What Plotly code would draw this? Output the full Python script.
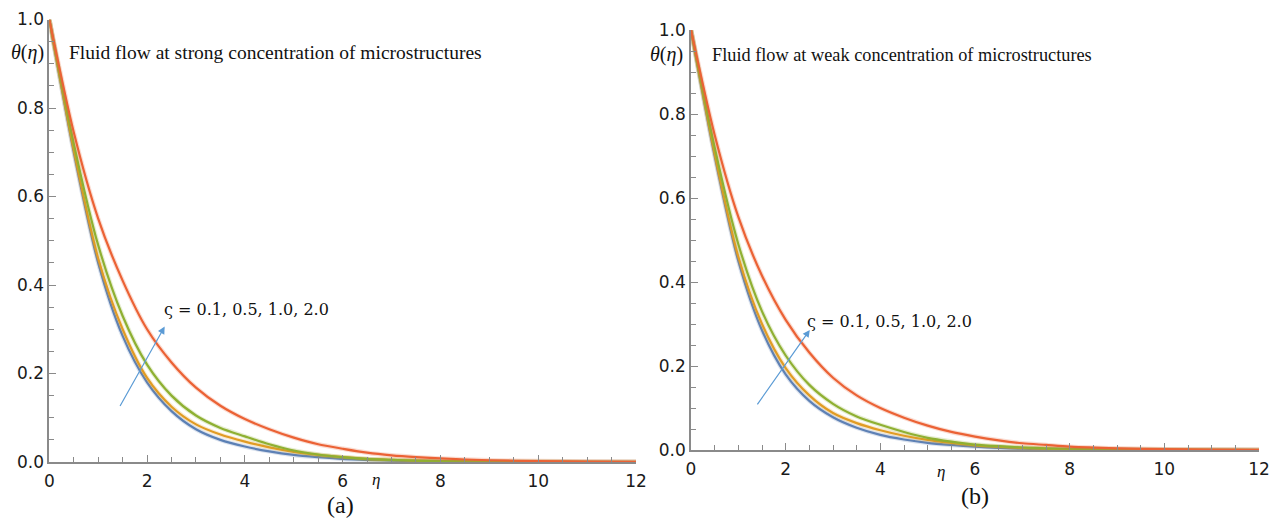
import plotly.graph_objects as go

# ---------------- data ----------------
ETA = [0, 0.5, 1, 1.5, 2, 2.5, 3, 3.5, 4, 4.5, 5, 5.5, 6, 6.5, 7, 7.5, 8, 9, 10, 11, 12]
SIGMA_LABELS = ["0.1", "0.5", "1.0", "2.0"]

# (a) strong concentration of microstructures
A_01 = [1.0, 0.70, 0.45, 0.285, 0.18, 0.115, 0.074, 0.050, 0.035, 0.024, 0.016, 0.011, 0.007, 0.005, 0.003, 0.002, 0.001, 0.0005, 0.0, 0.0, 0.0]
A_05 = [1.0, 0.705, 0.46, 0.30, 0.19, 0.125, 0.085, 0.062, 0.046, 0.033, 0.023, 0.016, 0.011, 0.007, 0.005, 0.003, 0.002, 0.001, 0.0005, 0.0, 0.0]
A_10 = [1.0, 0.72, 0.49, 0.33, 0.22, 0.15, 0.105, 0.077, 0.058, 0.040, 0.026, 0.017, 0.011, 0.007, 0.005, 0.003, 0.002, 0.001, 0.0005, 0.0002, 0.0]
A_20 = [1.0, 0.745, 0.55, 0.41, 0.30, 0.225, 0.168, 0.127, 0.097, 0.074, 0.055, 0.040, 0.030, 0.021, 0.015, 0.011, 0.008, 0.004, 0.002, 0.001, 0.0005]

# (b) weak concentration of microstructures
B_01 = [1.0, 0.70, 0.45, 0.285, 0.18, 0.117, 0.078, 0.053, 0.036, 0.025, 0.017, 0.012, 0.008, 0.005, 0.003, 0.002, 0.001, 0.0005, 0.0, 0.0, 0.0]
B_05 = [1.0, 0.705, 0.46, 0.30, 0.195, 0.13, 0.088, 0.064, 0.047, 0.034, 0.024, 0.017, 0.011, 0.008, 0.005, 0.003, 0.002, 0.001, 0.0005, 0.0, 0.0]
B_10 = [1.0, 0.72, 0.49, 0.33, 0.225, 0.155, 0.11, 0.08, 0.06, 0.043, 0.029, 0.020, 0.013, 0.009, 0.006, 0.004, 0.003, 0.0015, 0.0007, 0.0003, 0.0]
B_20 = [1.0, 0.75, 0.555, 0.415, 0.31, 0.232, 0.172, 0.13, 0.10, 0.077, 0.058, 0.043, 0.032, 0.023, 0.016, 0.012, 0.008, 0.004, 0.002, 0.001, 0.0005]

X_TICKS = [0, 2, 4, 6, 8, 10, 12]
Y_TICKS = [0.0, 0.2, 0.4, 0.6, 0.8, 1.0]

COLORS = ["#5E81B5", "#E19C24", "#8FB032", "#EB6235"]

W, H = 1279, 523
fig = go.Figure()

panels = [
    ("x", "y", [A_01, A_05, A_10, A_20]),
    ("x2", "y2", [B_01, B_05, B_10, B_20]),
]
for xa, ya, series in panels:
    for vals, col, lab in zip(series, COLORS, SIGMA_LABELS):
        fig.add_trace(go.Scatter(x=ETA, y=vals, mode="lines", xaxis=xa, yaxis=ya,
                                 line=dict(color=col, width=4.5, shape="spline", smoothing=0.8),
                                 opacity=0.22, showlegend=False, hoverinfo="skip"))
        fig.add_trace(go.Scatter(x=ETA, y=vals, mode="lines", xaxis=xa, yaxis=ya,
                                 name="ς = " + lab,
                                 line=dict(color=col, width=2.2, shape="spline", smoothing=0.8),
                                 showlegend=False))

AX_COL = "#8a8a8a"
TICK_FONT = dict(family="DejaVu Sans, sans-serif", size=17, color="#1a1a1a")

def xaxis_cfg(domain, anchor):
    return dict(domain=domain, anchor=anchor, range=[0, 12], tickvals=X_TICKS,
                ticktext=[str(v) for v in X_TICKS], automargin=False,
                showline=True, linecolor=AX_COL, linewidth=1.6, showgrid=False, zeroline=False,
                ticks="inside", ticklen=7, tickwidth=1.4, tickcolor=AX_COL,
                minor=dict(dtick=0.5, ticks="inside", ticklen=5, tickwidth=1.2, tickcolor=AX_COL, showgrid=False),
                tickfont=TICK_FONT, ticklabelstandoff=3)

def yaxis_cfg(domain, anchor):
    return dict(domain=domain, anchor=anchor, range=[0, 1], tickvals=Y_TICKS,
                ticktext=["%.1f" % v for v in Y_TICKS], automargin=False,
                showline=True, linecolor=AX_COL, linewidth=1.6, showgrid=False, zeroline=False,
                ticks="inside", ticklen=7, tickwidth=1.4, tickcolor=AX_COL,
                minor=dict(dtick=0.05, ticks="inside", ticklen=5, tickwidth=1.2, tickcolor=AX_COL, showgrid=False),
                tickfont=TICK_FONT, ticklabelstandoff=0)

fig.update_layout(
    width=W, height=H, autosize=False,
    margin=dict(l=0, r=0, t=0, b=0, pad=0),
    paper_bgcolor="white", plot_bgcolor="white",
    xaxis=xaxis_cfg([49.3 / W, 636.0 / W], "y"),
    yaxis=yaxis_cfg([1 - 462.0 / H, 1 - 19.5 / H], "x"),
    xaxis2=xaxis_cfg([691.0 / W, 1259.0 / W], "y2"),
    yaxis2=yaxis_cfg([1 - 450.0 / H, 1 - 30.0 / H], "x2"),
)

SERIF = "Liberation Serif, Times New Roman, serif"
PARAM_FONT = dict(family="DejaVu Serif, serif", size=16, color="#111")
ann = []
ann.append(dict(x=0.36, y=0.925, xref="x", yref="y", xanchor="left", yanchor="middle", showarrow=False,
                text="Fluid flow at strong concentration of microstructures",
                font=dict(family=SERIF, size=19.5, color="#111")))
ann.append(dict(x=0.40, y=0.94, xref="x2", yref="y2", xanchor="left", yanchor="middle", showarrow=False,
                text="Fluid flow at weak concentration of microstructures",
                font=dict(family=SERIF, size=18.3, color="#111")))
ann.append(dict(x=2.31, y=0.344, xref="x", yref="y", xanchor="left", yanchor="middle", showarrow=False,
                text="ς = 0.1, 0.5, 1.0, 2.0", font=PARAM_FONT))
ann.append(dict(x=2.40, y=0.305, xref="x2", yref="y2", xanchor="left", yanchor="middle", showarrow=False,
                text="ς = 0.1, 0.5, 1.0, 2.0", font=PARAM_FONT))
ann.append(dict(x=2.36, y=0.306, ax=1.43, ay=0.123, xref="x", yref="y", axref="x", ayref="y",
                showarrow=True, arrowhead=2, arrowsize=1.2, arrowwidth=1.2, arrowcolor="#5B9BD5", text=""))
ann.append(dict(x=2.51, y=0.286, ax=1.38, ay=0.105, xref="x2", yref="y2", axref="x2", ayref="y2",
                showarrow=True, arrowhead=2, arrowsize=1.2, arrowwidth=1.2, arrowcolor="#5B9BD5", text=""))

def paper_text(px, py, text, size):
    return dict(x=px / W, y=1 - py / H, xref="paper", yref="paper", showarrow=False,
                xanchor="center", yanchor="middle", text=text,
                font=dict(family=SERIF, size=size, color="#111"))

ann.append(paper_text(27, 52, "<i>θ</i>(<i>η</i>)", 20))
ann.append(paper_text(666, 55, "<i>θ</i>(<i>η</i>)", 20))
ann.append(paper_text(376, 479, "<i>η</i>", 17))
ann.append(paper_text(941, 471, "<i>η</i>", 17))
ann.append(paper_text(340, 505, "(a)", 24))
ann.append(paper_text(975, 496, "(b)", 24))

fig.update_layout(annotations=ann)
fig.write_html("out.html", config={"displayModeBar": False},
               post_script="document.body.style.margin='0';document.body.style.overflow='hidden';")
